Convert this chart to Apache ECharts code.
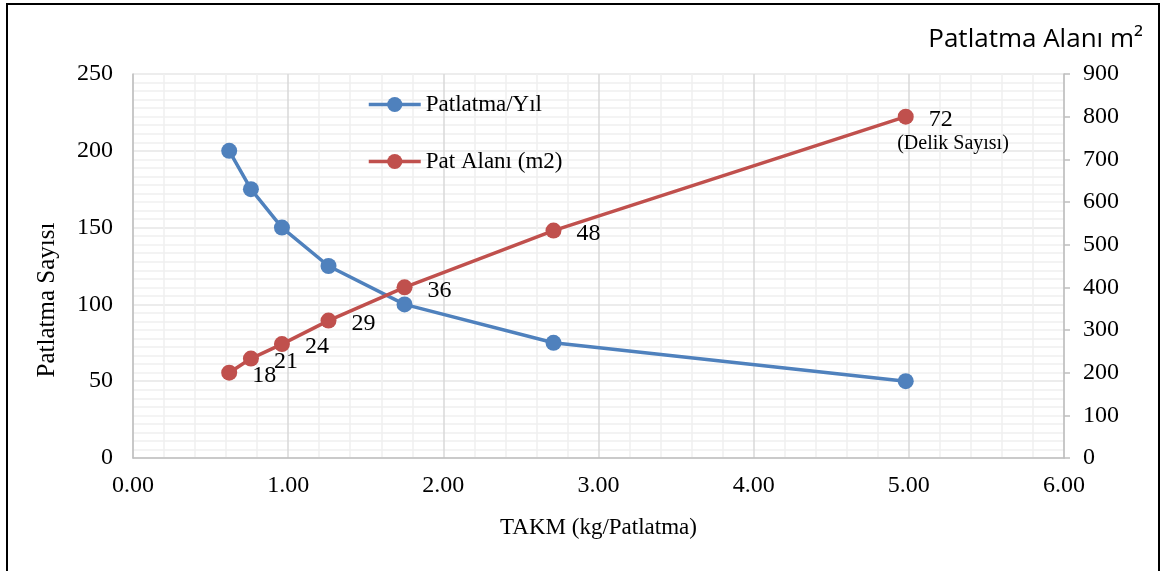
<!DOCTYPE html>
<html>
<head>
<meta charset="utf-8">
<script src="https://cdn.jsdelivr.net/npm/echarts@6/dist/echarts.min.js"></script>
<style>
  html, body { margin: 0; padding: 0; background: #fff; }
  #chart { width: 1163px; height: 571px; }
</style>
</head>
<body>
<div id="chart"></div>
<script>
// TAKM (kg per blast) for each design
const takm = [0.62, 0.76, 0.96, 1.26, 1.75, 2.71, 4.98];
// Blasts per year (left axis)
const blastsPerYear = [200, 175, 150, 125, 100, 75, 50];
// Blast area in m2 (right axis)
const blastArea = [200, 233, 267, 322, 400, 533, 800];
// Number of holes per blast, shown beside the area points
const holeCounts = [18, 21, 24, 29, 36, 48, 72];

const serif = '"Liberation Serif", "Times New Roman", serif';
const blue = '#4f81bd';
const red = '#c0504d';

const chart = echarts.init(document.getElementById('chart'));

const option = {
  animation: false,
  backgroundColor: '#fff',
  grid: { left: 133, right: 99, top: 74, bottom: 113 },
  legend: {
    orient: 'vertical',
    left: 362,
    top: 88,
    itemGap: 34,
    itemWidth: 52,
    itemHeight: 19,
    lineStyle: { width: 3.5 },
    textStyle: { fontFamily: serif, fontSize: 23, color: '#000' },
    data: ['Patlatma/Yıl', 'Pat Alanı (m2)']
  },
  xAxis: {
    type: 'value',
    min: 0, max: 6, interval: 1,
    name: 'TAKM (kg/Patlatma)',
    nameLocation: 'middle',
    nameGap: 58,
    nameTextStyle: { fontFamily: serif, fontSize: 23, color: '#000' },
    axisLine: { show: true, lineStyle: { color: '#bfbfbf', width: 1.5 } },
    axisTick: { show: false },
    axisLabel: {
      fontFamily: serif, fontSize: 24, color: '#000', margin: 16,
      formatter: v => v.toFixed(2)
    },
    splitLine: { show: true, lineStyle: { color: '#d9d9d9', width: 1.5 } },
    minorTick: { show: false, splitNumber: 5 },
    minorSplitLine: { show: true, lineStyle: { color: '#f0f0f0', width: 1.5 } }
  },
  yAxis: [
    {
      type: 'value',
      min: 0, max: 250, interval: 50,
      axisLine: { show: true, lineStyle: { color: '#bfbfbf', width: 1.5 } },
      axisTick: { show: false },
      axisLabel: { fontFamily: serif, fontSize: 24, color: '#000', margin: 20 },
      splitLine: { show: true, lineStyle: { color: '#d9d9d9', width: 1.5 } }
    },
    {
      type: 'value',
      min: 0, max: 900, interval: 100,
      position: 'right',
      axisLine: { show: true, lineStyle: { color: '#bfbfbf', width: 1.5 } },
      axisTick: { show: true, length: 6, lineStyle: { color: '#bfbfbf', width: 1.5 } },
      axisLabel: { fontFamily: serif, fontSize: 24, color: '#000', margin: 19 },
      splitLine: { show: true, lineStyle: { color: '#f0f0f0', width: 1.5 } },
      minorTick: { show: false, splitNumber: 5 },
      minorSplitLine: { show: true, lineStyle: { color: '#f0f0f0', width: 1.5 } }
    }
  ],
  series: [
    {
      name: 'Patlatma/Yıl',
      type: 'line',
      yAxisIndex: 0,
      data: takm.map((x, i) => [x, blastsPerYear[i]]),
      symbol: 'circle',
      symbolSize: 16,
      itemStyle: { color: blue },
      lineStyle: { color: blue, width: 3.5 },
      z: 3
    },
    {
      name: 'Pat Alanı (m2)',
      type: 'line',
      yAxisIndex: 1,
      data: takm.map((x, i) => [x, blastArea[i]]),
      symbol: 'circle',
      symbolSize: 16,
      itemStyle: { color: red },
      lineStyle: { color: red, width: 3.5 },
      label: {
        show: true,
        position: 'right',
        distance: 15,
        offset: [0, 3],
        fontFamily: serif,
        fontSize: 24,
        color: '#000',
        formatter: p => String(holeCounts[p.dataIndex])
      },
      z: 4
    }
  ],
  graphic: [
    {
      type: 'rect',
      shape: { x: 7, y: 4, width: 1152, height: 580 },
      style: { fill: 'none', stroke: '#000', lineWidth: 2 },
      silent: true
    },
    {
      type: 'text',
      x: 1143, y: 40,
      style: {
        text: 'Patlatma Alanı m²',
        font: '26px "Open Sans", "Liberation Sans", sans-serif',
        fill: '#000',
        align: 'right',
        verticalAlign: 'middle'
      }
    },
    {
      type: 'text',
      x: 47, y: 300,
      rotation: Math.PI / 2,
      style: {
        text: 'Patlatma Sayısı',
        font: '25px ' + serif,
        fill: '#000',
        align: 'center',
        verticalAlign: 'middle'
      }
    }
  ]
};

chart.setOption(option);

// Caption under the last hole-count label, placed from the last area point
const last = takm.length - 1;
const pt = chart.convertToPixel({ xAxisIndex: 0, yAxisIndex: 1 }, [takm[last], blastArea[last]]);
chart.setOption({
  graphic: [
    option.graphic[0], option.graphic[1], option.graphic[2],
    {
      type: 'text',
      z: 10,
      x: Math.round(pt[0] + 47), y: Math.round(pt[1] + 27),
      style: {
        text: '(Delik Sayısı)',
        font: '20px ' + serif,
        fill: '#000',
        align: 'center',
        verticalAlign: 'middle'
      }
    }
  ]
});
</script>
</body>
</html>
